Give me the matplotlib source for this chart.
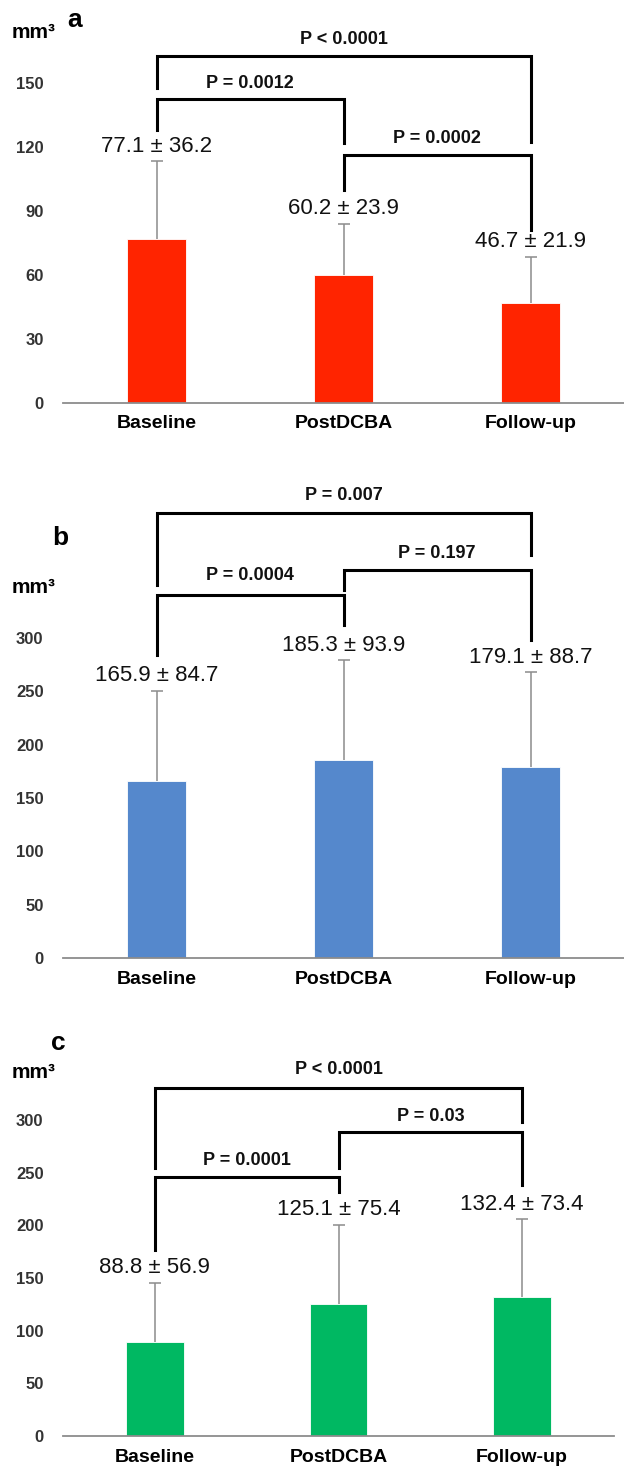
import numpy as np
import matplotlib
matplotlib.use('Agg')
import matplotlib.pyplot as plt

plt.rcParams['font.family'] = ['Liberation Sans', 'DejaVu Sans']

groups = ['Baseline', 'PostDCBA', 'Follow-up']

mean_a = [77.1, 60.2, 46.7]
sd_a = [36.2, 23.9, 21.9]
mean_b = [165.9, 185.3, 179.1]
sd_b = [84.7, 93.9, 88.7]
mean_c = [88.8, 125.1, 132.4]
sd_c = [56.9, 75.4, 73.4]

pairs = [(0, 2), (0, 1), (1, 2)]
p_a = ['P < 0.0001', 'P = 0.0012', 'P = 0.0002']
p_b = ['P = 0.007', 'P = 0.0004', 'P = 0.197']
p_c = ['P < 0.0001', 'P = 0.0001', 'P = 0.03']

W, H = 624, 1469
fig = plt.figure(figsize=(W / 100, H / 100), dpi=100)


def px_axes(left, top, right, bottom):
    return fig.add_axes([left / W, 1 - bottom / H, (right - left) / W, (bottom - top) / H])


def panel(ax, means, sds, color, ymax, step, pvals, brk):
    x = np.arange(len(groups))
    tops = np.array(means) + np.array(sds)
    ax.bar(x, means, width=0.315, color=color, edgecolor='white', linewidth=0.6, zorder=2)
    # upper error bar only
    ax.vlines(x, means, tops, color='#8c8c8c', lw=1.1, zorder=1)
    ax.plot(x, tops, ls='none', marker='_', ms=8, mew=1.1, color='#8c8c8c', zorder=1)
    for xi, m, s in zip(x, means, sds):
        ax.annotate(f'{m} \u00b1 {s}', (xi, m + s), xytext=(0, 15), textcoords='offset pixels',
                    ha='center', va='center', fontsize=16, color='#111111')
    for (i, j), lab, (yb, yl, yr, yt) in zip(pairs, pvals, brk):
        ax.plot([i, i, j, j], [yl, yb, yb, yr], color='black', lw=2.2,
                solid_joinstyle='miter', clip_on=False, zorder=4)
        ax.text((i + j) / 2, yt, lab, ha='center', va='center', fontsize=13,
                fontweight='bold', color='#111111')
    ax.set_xlim(-0.5, 2.5)
    ax.set_ylim(0, ymax)
    ax.set_yticks(np.arange(0, ymax + 1, step))
    ax.set_xticks(x)
    ax.set_xticklabels(groups, fontsize=14, fontweight='bold')
    for lab in ax.get_yticklabels():
        lab.set_fontweight('bold')
    ax.tick_params(axis='y', length=0, pad=14, labelsize=12, labelcolor='#333333')
    ax.tick_params(axis='x', length=0, pad=9)
    for s in ['left', 'top', 'right']:
        ax.spines[s].set_visible(False)
    ax.spines['bottom'].set_color('#8c8c8c')
    ax.spines['bottom'].set_linewidth(1.3)


ax_a = px_axes(63, 83, 624, 403)
panel(ax_a, mean_a, sd_a, '#ff2400', 150, 30, p_a,
      [(162.7, 147.7, 122.3, 170.6), (142.5, 128, 121.9, 150), (116.3, 99.8, 81, 124.2)])

ax_b = px_axes(63, 638, 624, 958)
panel(ax_b, mean_b, sd_b, '#5588cc', 300, 50, p_b,
      [(417.2, 349.7, 377.8, 434), (340.3, 284, 312, 359), (363.8, 345, 298, 378.8)])

ax_c = px_axes(63, 1120, 614, 1436)
panel(ax_c, mean_c, sd_c, '#00b862', 300, 50, p_c,
      [(330.4, 254.4, 298, 347.5), (245.9, 176.6, 231.6, 262), (288.6, 254.4, 238.3, 302.9)])

# panel letters and units
for letter, lx, ly, my in [('a', 75, 20, 33), ('b', 60, 538, 587), ('c', 58, 1043, 1072)]:
    fig.text(lx / W, 1 - ly / H, letter, fontsize=19, fontweight='bold', ha='center', va='center')
    fig.text(34 / W, 1 - my / H, 'mm\u00b3', fontsize=15, fontweight='bold', ha='center', va='center')

fig.savefig('out.png', dpi=100)
